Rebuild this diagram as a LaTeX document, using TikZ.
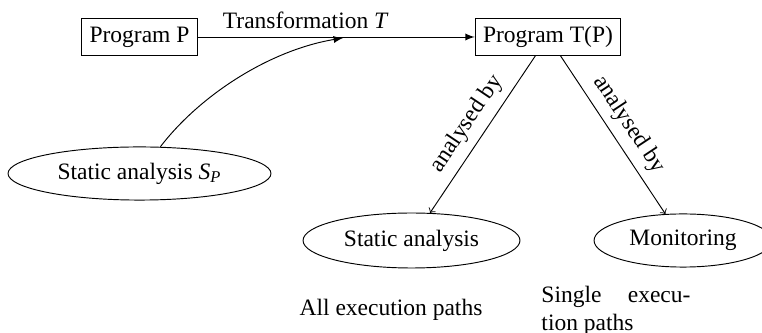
\documentclass[tikz,border=0pt]{standalone}
\usepackage{amsmath}
\usepackage{fontspec}
\setmainfont{Liberation Serif}
\usetikzlibrary{shapes.geometric}
\begin{document}
\begin{tikzpicture}[x=0.4255pt,y=-0.4255pt,
  font=\fontsize{10}{12}\selectfont,
  line width=0.4pt,
  box/.style={draw,rectangle},
  ell/.style={draw,ellipse,inner sep=0pt},
  lbl/.style={inner sep=0pt}]
\useasboundingbox (0,0) rectangle (762,333);
\node[box] (p) at (139.5,37) {Program P};
\node[box] (tp) at (548,37) {Program T(P)};
\node[ell,minimum width=111.9pt,minimum height=22.6pt] (sp) at (139.5,173.5) {Static analysis \textit{S}$_{\textit{P}}$};
\node[ell,minimum width=92.3pt,minimum height=23.4pt] (sa) at (411.5,240.5) {Static analysis};
\node[ell,minimum width=75.7pt,minimum height=22.6pt] (mon) at (683,240.5) {Monitoring};
\coordinate (ce) at (343,38);
\draw[-latex] (p) -- node[above,pos=0.39] (tl) {Transformation \textit{T}} (tp);
\draw[-latex] (sp.52) .. controls (200,95) and (270,50) .. (ce);
\draw[->] (tp) -- node[above,sloped,midway] (l1) {analysed by} (sa);
\draw[->] (tp) -- node[above,sloped,midway] (l2) {analysed by} (mon);
\node[lbl,anchor=base] (all) at (391,315) {All execution paths};
\node[lbl,anchor=north west,text width=63.4pt,align=justify] (single) at (541,286) {Single execution paths};
\end{tikzpicture}
\end{document}
